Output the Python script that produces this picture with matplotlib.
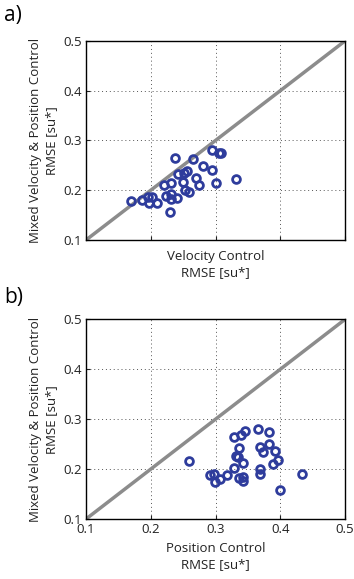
import numpy as np
import matplotlib
matplotlib.use("Agg")
import matplotlib.pyplot as plt

plt.rcParams['font.family'] = ['Open Sans', 'DejaVu Sans']

# panel a: velocity control vs mixed
velRmse = [0.169, 0.186, 0.195, 0.202, 0.197, 0.209, 0.220, 0.224, 0.231, 0.231,
           0.240, 0.230, 0.231, 0.238, 0.242, 0.252, 0.256, 0.250, 0.253, 0.259,
           0.265, 0.269, 0.275, 0.280, 0.295, 0.295, 0.300, 0.306, 0.308, 0.331]
mixRmseA = [0.178, 0.180, 0.187, 0.187, 0.175, 0.174, 0.211, 0.189, 0.192, 0.182,
            0.184, 0.156, 0.215, 0.265, 0.233, 0.234, 0.239, 0.217, 0.201, 0.197,
            0.263, 0.224, 0.211, 0.249, 0.280, 0.240, 0.215, 0.274, 0.274, 0.223]

# panel b: position control vs mixed
posRmse = [0.259, 0.292, 0.298, 0.299, 0.307, 0.318, 0.328, 0.329, 0.340, 0.345,
           0.336, 0.332, 0.335, 0.342, 0.336, 0.342, 0.343, 0.366, 0.383, 0.369,
           0.373, 0.383, 0.391, 0.397, 0.389, 0.368, 0.369, 0.400, 0.433]
mixRmseB = [0.217, 0.189, 0.190, 0.175, 0.181, 0.189, 0.203, 0.265, 0.269, 0.277,
            0.243, 0.227, 0.225, 0.212, 0.183, 0.185, 0.177, 0.281, 0.275, 0.244,
            0.235, 0.250, 0.236, 0.219, 0.211, 0.200, 0.191, 0.158, 0.191]

ticks = [0.1, 0.2, 0.3, 0.4, 0.5]
tickLabels = ['0.1', '0.2', '0.3', '0.4', '0.5']

fig = plt.figure(figsize=(3.54, 5.79), dpi=100)
axA = fig.add_axes([0.243, 0.5855, 0.732, 0.344])
axB = fig.add_axes([0.243, 0.1036, 0.732, 0.345])

def drawPanel(ax, xs, ys, xlab, showXLabels):
    ax.plot([0.1, 0.5], [0.1, 0.5], color='#8c8c8c', lw=2.5, zorder=2)
    ax.plot(xs, ys, 'o', mfc='none', mec='#2e3c9c', mew=2.0, ms=5.6, zorder=3)
    ax.set_xlim(0.1, 0.5)
    ax.set_ylim(0.1, 0.5)
    ax.set_xticks(ticks)
    ax.set_yticks(ticks)
    if showXLabels:
        ax.set_xticklabels(tickLabels)
    else:
        ax.set_xticklabels([])
    ax.set_yticklabels(tickLabels)
    ax.grid(True, linestyle=(0, (1, 3)), color='#555555', lw=0.7)
    ax.tick_params(direction='in', length=3, labelsize=9.5, pad=3, colors='#222222')
    for s in ax.spines.values():
        s.set_linewidth(1.0)
    ax.set_xlabel(xlab, fontsize=9.5, linespacing=1.3, labelpad=4, color='#222222')
    ax.set_ylabel('Mixed Velocity & Position Control\nRMSE [su*]', fontsize=9.5,
                  linespacing=1.3, labelpad=4, color='#222222')

drawPanel(axA, velRmse, mixRmseA, 'Velocity Control\nRMSE [su*]', False)
drawPanel(axB, posRmse, mixRmseB, 'Position Control\nRMSE [su*]', True)

fig.text(0.012, 0.974, 'a)', fontsize=15, va='center', ha='left')
fig.text(0.012, 0.487, 'b)', fontsize=15, va='center', ha='left')

fig.savefig('out.png', dpi=100)
